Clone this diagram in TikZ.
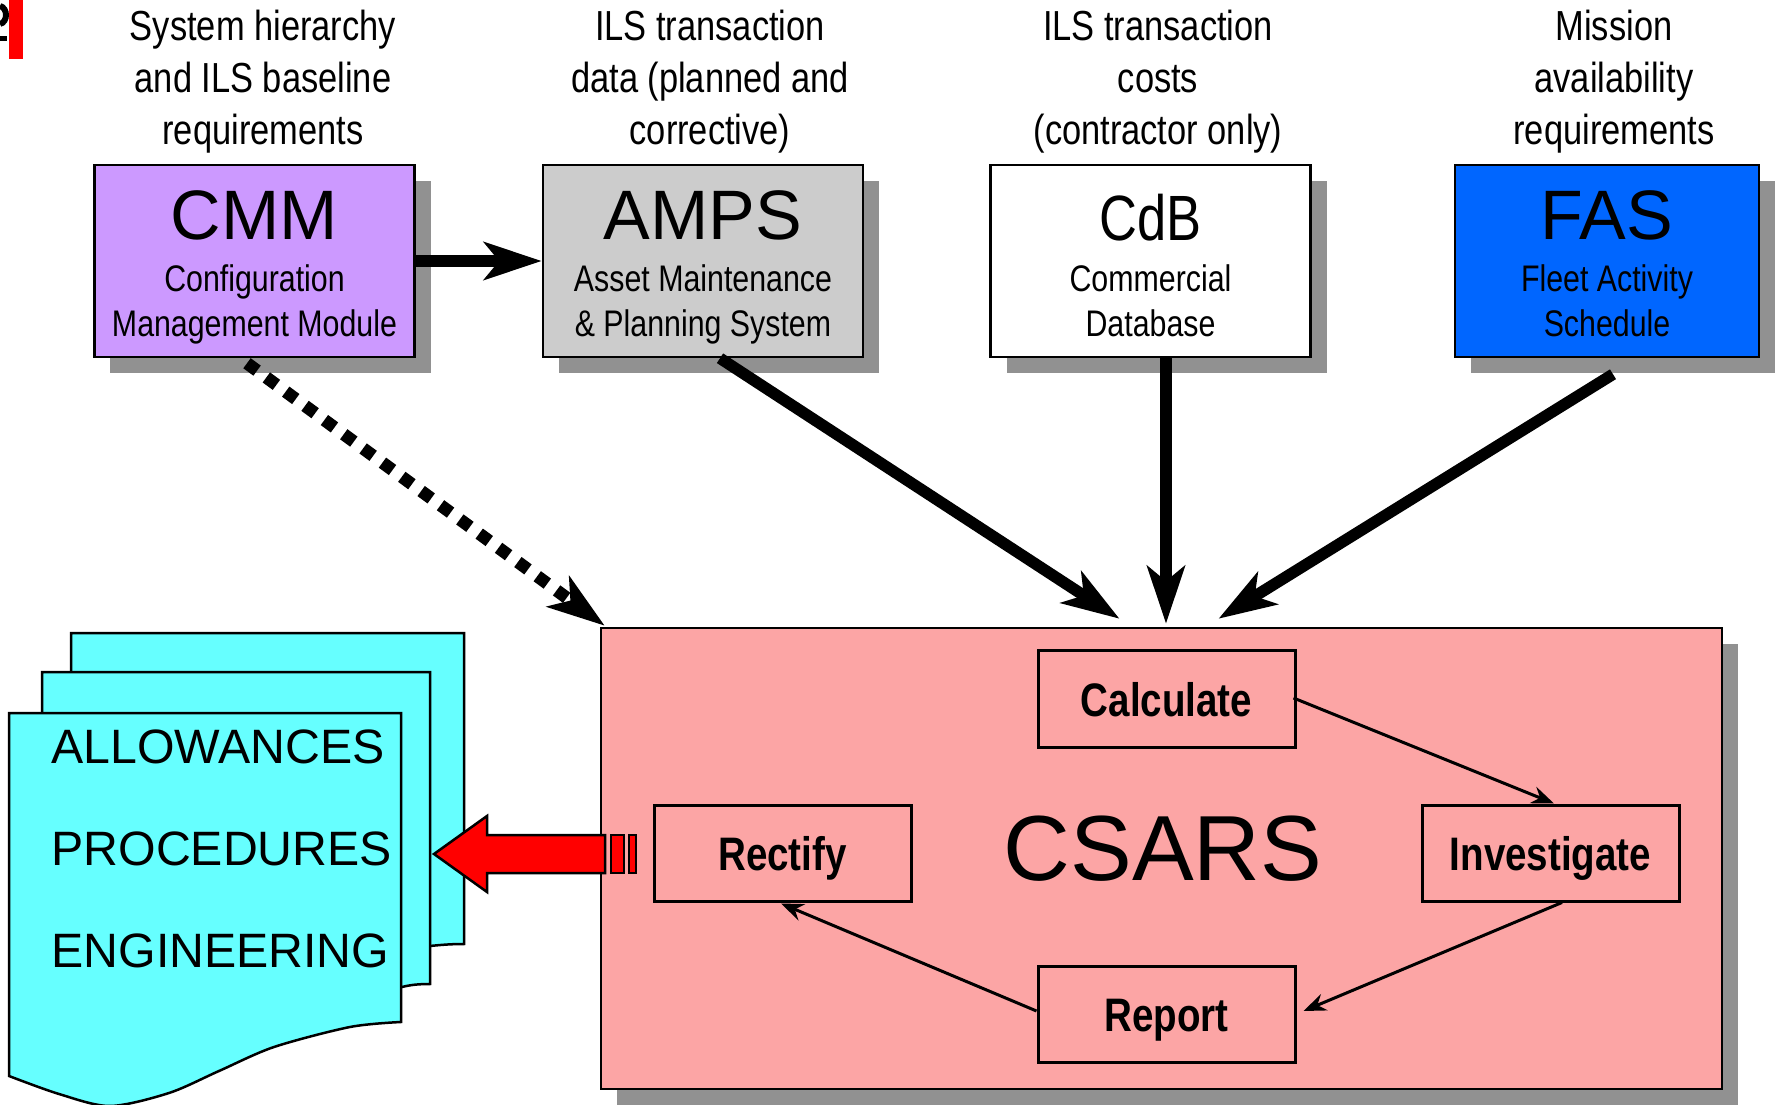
\documentclass[tikz,border=0pt]{standalone}
\usepackage{fontspec}
\setmainfont{Liberation Sans}
\newfontfamily\narrowfont[FakeStretch=0.82]{Liberation Sans}
\usetikzlibrary{arrows.meta,shadows,calc}

\definecolor{cmmfill}{HTML}{CC99FF}
\definecolor{ampsfill}{HTML}{CCCCCC}
\definecolor{fasfill}{HTML}{0066FF}
\definecolor{csarsfill}{HTML}{FCA5A5}
\definecolor{docfill}{HTML}{66FFFF}
\definecolor{shadowgray}{HTML}{919191}
\definecolor{flagred}{HTML}{FF0000}

\tikzset{
  boxshadow/.style={drop shadow={shadow xshift=6.4pt, shadow yshift=-6.4pt, fill=shadowgray, opacity=1}},
  sysbox/.style={draw=black, line width=1pt, minimum width=128pt, minimum height=76.8pt, inner sep=0pt, boxshadow},
  titletext/.style={inner sep=0pt, font=\fontsize{28}{30}\selectfont},
  % multi-line texts: the base anchor sits on the baseline of the last line
  subtext/.style={inner sep=0pt, anchor=base, align=center, font=\narrowfont\fontsize{14.8}{18}\selectfont},
  labeltext/.style={inner sep=0pt, anchor=base, align=center, font=\narrowfont\fontsize{16.8}{20.8}\selectfont},
  stepbox/.style={draw=black, line width=1.2pt, minimum width=102.8pt, minimum height=38.4pt, inner sep=0pt,
    text height=14.1pt, text depth=0pt, font=\narrowfont\bfseries\fontsize{18.8}{22}\selectfont},
  doctext/.style={inner sep=0pt, anchor=west, font=\fontsize{19.3}{22}\selectfont},
  bigtip/.style={-{Stealth[length=23pt, width=15pt, inset=6pt]}},
  bigarrow/.style={line width=4.6pt, bigtip},
  dotarrow/.style={line width=5pt, dash pattern=on 5pt off 4.6pt, bigtip},
  thinarrow/.style={line width=1.2pt, -{Stealth[length=9pt, width=7pt, inset=3pt]}},
  sheet/.style={draw=black, line width=1pt, fill=docfill}
}

\begin{document}
\begin{tikzpicture}[x=0.4pt, y=-0.4pt]
\useasboundingbox (0,0) rectangle (1775,1105);

% corner mark
\fill[flagred] (9,0) rectangle (23,59);
\draw[line width=2.4pt] (0,6) .. controls (8,8) and (8,22) .. (0,24);
\fill (0,36) rectangle (7,41);

% input labels
\node[labeltext] (lab1) at (263,145) {System hierarchy\\and ILS baseline\\requirements};
\node[labeltext] (lab2) at (710,145) {ILS transaction\\data (planned and\\corrective)};
\node[labeltext] (lab3) at (1158,145) {ILS transaction\\costs\\(contractor only)};
\node[labeltext] (lab4) at (1614,145) {Mission\\availability\\requirements};

% source systems
\node[sysbox, fill=cmmfill] (cmm) at (254.5,261) {};
\node[titletext] (cmmT) at (254.5,215) {CMM};
\node[subtext] (cmmS) at (254.5,337) {Configuration\\Management Module};

\node[sysbox, fill=ampsfill] (amps) at (703,261) {};
\node[titletext] (ampsT) at (703,215) {AMPS};
\node[subtext] (ampsS) at (703,337) {Asset Maintenance\\\& Planning System};

\node[sysbox, fill=white] (cdb) at (1150.5,261) {};
\node[inner sep=0pt, font=\narrowfont\fontsize{25.6}{28}\selectfont] (cdbT) at (1150.5,218) {CdB};
\node[subtext] (cdbS) at (1150.5,337) {Commercial\\Database};

\node[sysbox, fill=fasfill, minimum width=121.6pt] (fas) at (1607,261) {};
\node[titletext] (fasT) at (1607,215) {FAS};
\node[subtext] (fasS) at (1607,337) {Fleet Activity\\Schedule};

% CSARS block
\node[draw=black, line width=1pt, fill=csarsfill, minimum width=448.4pt, minimum height=184.4pt,
      inner sep=0pt, boxshadow] (csars) at (1161.5,858.5) {};
\node[inner sep=0pt, font=\fontsize{37}{40}\selectfont] (csarsT) at (1163,849) {CSARS};

\node[stepbox] (calc) at (1166.5,699) {Calculate};
\node[stepbox] (inv) at (1550.5,853) {Investigate};
\node[stepbox] (rect) at (782.5,853) {Rectify};
\node[stepbox] (rep) at (1166.5,1014) {Report};

% output documents
\draw[sheet] (71,633) -- (464,633) -- (464,944) .. controls (450,944) and (440,945) .. (430,946) -- (71,946) -- cycle;
\draw[sheet] (42,672) -- (430,672) -- (430,984) .. controls (418,984) and (410,985) .. (402,987) -- (42,987) -- cycle;
\draw[sheet] (9,713) -- (401,713) -- (401,1022)
  -- plot[smooth] coordinates {(401,1022) (350,1027) (274,1047) (219,1071) (169,1093) (110,1106) (59,1094) (9,1076)}
  -- cycle;
\node[doctext] (allow) at (51,747) {ALLOWANCES};
\node[doctext] (proc) at (51,849) {PROCEDURES};
\node[doctext] (eng) at (51,951) {ENGINEERING};

% output arrow
\coordinate (outtip) at (434,854);
\draw[line width=1pt, fill=flagred] (605,835) -- (487,835) -- (487,816) -- (outtip) -- (487,892) -- (487,873) -- (605,873) -- cycle;
\draw[line width=1pt, fill=flagred] (611,835) rectangle (624,873);
\draw[line width=1pt, fill=flagred] (629,835) rectangle (636,873);

% data flows
\draw[bigarrow] (cmm) -- (amps);
\draw[bigarrow] ($(amps.south)+(17,0)$) -- ($(csars.north)+(-42,-8)$);
\draw[bigarrow] ($(cdb.south)+(15.5,0)$) -- ($(csars.north)+(4.5,-3)$);
\draw[bigarrow] ($(fas.south)+(6,16)$) -- ($(csars.north)+(57,-8)$);
\draw[dotarrow] ($(cmm.south)+(-7.5,5)$) -- ($(csars.north west)+(5,-1)$);

% CSARS cycle
\draw[thinarrow] ($(calc.east)+(-3,-1)$) -- ($(inv.north)+(3.5,0)$);
\draw[thinarrow] ($(inv.south)+(11.5,0)$) -- ($(rep.east)+(7,-3)$);
\draw[thinarrow] ($(rep.west)+(0,-3)$) -- ($(rect.south)+(-1.5,1)$);
\end{tikzpicture}
\end{document}
